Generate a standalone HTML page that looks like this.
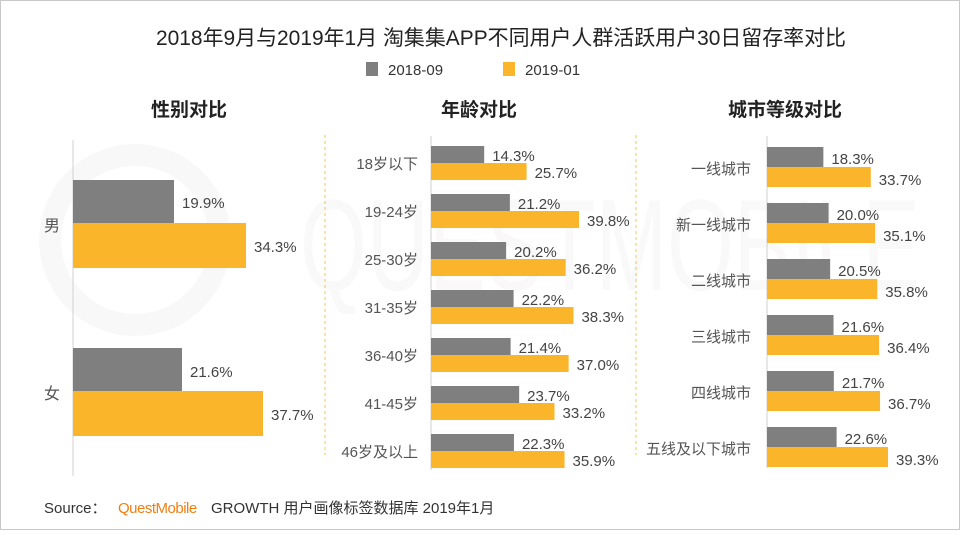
<!DOCTYPE html>
<html><head><meta charset="utf-8"><style>
body{margin:0;width:960px;height:530px;overflow:hidden;background:#fff;font-family:"Liberation Sans","Noto Sans CJK SC",sans-serif;}
svg text{font-family:"Liberation Sans","Noto Sans CJK SC",sans-serif;}
</style></head><body>
<svg width="960" height="530" viewBox="0 0 960 530">
<rect x="0.5" y="0.5" width="959" height="529" fill="#fff" stroke="#c8c8c8"/>
<circle cx="135" cy="240" r="85" fill="none" stroke="#f8f8f8" stroke-width="22"/>
<text x="300" y="290" font-size="130" fill="#f9f9f9" textLength="620" lengthAdjust="spacingAndGlyphs">QUESTMOBILE</text>
<text x="501" y="45" font-size="21" fill="#222" text-anchor="middle" textLength="690" lengthAdjust="spacingAndGlyphs">2018年9月与2019年1月 淘集集APP不同用户人群活跃用户30日留存率对比</text>
<rect x="366" y="62" width="12" height="14" fill="#7f7f7f"/>
<text x="388" y="75" font-size="15" fill="#333">2018-09</text>
<rect x="503" y="62" width="12" height="14" fill="#fbb52b"/>
<text x="525" y="75" font-size="15" fill="#333">2019-01</text>
<g font-size="19" fill="#222" font-weight="bold" text-anchor="middle">
<text x="189" y="116">性别对比</text><text x="479" y="116">年龄对比</text><text x="785" y="116">城市等级对比</text></g>
<g stroke="#f5c842" stroke-dasharray="3,3"><line x1="325" y1="135" x2="325" y2="455"/><line x1="636" y1="135" x2="636" y2="455"/></g>
<g stroke="#d0d0d0"><line x1="73" y1="140" x2="73" y2="476"/><line x1="431" y1="136" x2="431" y2="470"/><line x1="767" y1="136" x2="767" y2="468"/></g>
<g font-size="15" fill="#444">
<rect x="73" y="180" width="101" height="43" fill="#7f7f7f"/><rect x="73" y="223" width="173" height="45" fill="#fbb52b"/>
<text x="182" y="208">19.9%</text><text x="254" y="252">34.3%</text><text x="44" y="231" fill="#555" font-size="16">男</text>
<rect x="73" y="348" width="109" height="43" fill="#7f7f7f"/><rect x="73" y="391" width="190" height="45" fill="#fbb52b"/>
<text x="190" y="377">21.6%</text><text x="271" y="420">37.7%</text><text x="44" y="399" fill="#555" font-size="16">女</text>
</g>
<g id="age" font-size="15" fill="#444"></g>
<g id="city" font-size="15" fill="#444"></g>
<text x="44" y="513" font-size="15" fill="#333">Source：</text>
<text x="118" y="513" font-size="15" fill="#f07f12" letter-spacing="-0.5">QuestMobile</text>
<text x="211" y="513" font-size="15" fill="#333">GROWTH 用户画像标签数据库 2019年1月</text>
</svg>
<script>
var ns="http://www.w3.org/2000/svg";
function add(g,tag,a,t){var e=document.createElementNS(ns,tag);for(var k in a)e.setAttribute(k,a[k]);if(t)e.textContent=t;g.appendChild(e);}
var age=[["18岁以下",14.3,25.7],["19-24岁",21.2,39.8],["25-30岁",20.2,36.2],["31-35岁",22.2,38.3],["36-40岁",21.4,37.0],["41-45岁",23.7,33.2],["46岁及以上",22.3,35.9]];
var g=document.getElementById("age");
age.forEach(function(d,i){var y=146+i*48,s=3.72;
add(g,"rect",{x:431,y:y,width:d[1]*s,height:17,fill:"#7f7f7f"});
add(g,"rect",{x:431,y:y+17,width:d[2]*s,height:17,fill:"#fbb52b"});
add(g,"text",{x:431+d[1]*s+8,y:y+15},d[1].toFixed(1)+"%");
add(g,"text",{x:431+d[2]*s+8,y:y+32},d[2].toFixed(1)+"%");
add(g,"text",{x:418,y:y+23,"text-anchor":"end",fill:"#555"},d[0]);});
var city=[["一线城市",18.3,33.7],["新一线城市",20.0,35.1],["二线城市",20.5,35.8],["三线城市",21.6,36.4],["四线城市",21.7,36.7],["五线及以下城市",22.6,39.3]];
g=document.getElementById("city");
city.forEach(function(d,i){var y=147+i*56,s=3.08;
add(g,"rect",{x:767,y:y,width:d[1]*s,height:20,fill:"#7f7f7f"});
add(g,"rect",{x:767,y:y+20,width:d[2]*s,height:20,fill:"#fbb52b"});
add(g,"text",{x:767+d[1]*s+8,y:y+17},d[1].toFixed(1)+"%");
add(g,"text",{x:767+d[2]*s+8,y:y+38},d[2].toFixed(1)+"%");
add(g,"text",{x:751,y:y+27,"text-anchor":"end",fill:"#555"},d[0]);});
</script>
</body></html>
